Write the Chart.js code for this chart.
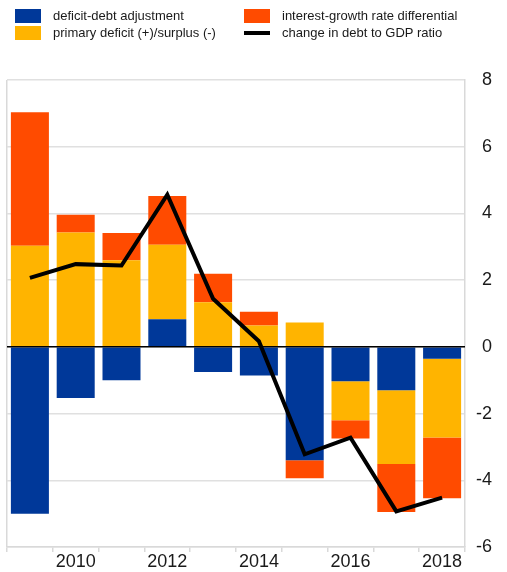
<!DOCTYPE html>
<html>
<head>
<meta charset="utf-8">
<script src="https://cdn.jsdelivr.net/npm/chart.js@4.4.1/dist/chart.umd.min.js"></script>
<style>
  html, body { margin: 0; padding: 0; background: #fff; }
  #wrap { position: relative; width: 507px; height: 572px; overflow: hidden; }
  #c { position: absolute; left: 0; top: 0; }
  .lg { position: absolute; font-family: "Liberation Sans", Arial, sans-serif; font-size: 13px; color: #1a1a1a; line-height: 16px; white-space: nowrap; }
  .sw { position: absolute; }
</style>
</head>
<body>
<div id="wrap">
  <canvas id="c" width="507" height="572"></canvas>
  <div id="legend"></div>
</div>
<script>
// ---- data ----
const years = ['2009','2010','2011','2012','2013','2014','2015','2016','2017','2018'];
const deficitDebtAdjustment = [-5.0, -1.53, -1.0, 0.83, -0.75, -0.86, -3.40, -1.03, -1.30, -0.36];
const primaryDeficit = [3.03, 3.43, 2.60, 2.23, 1.34, 0.64, 0.73, -1.17, -2.21, -2.36];
const interestGrowthDiff = [4.0, 0.53, 0.81, 1.46, 0.85, 0.41, -0.54, -0.55, -1.44, -1.82];
const changeInDebtRatio = [2.07, 2.48, 2.44, 4.56, 1.44, 0.17, -3.22, -2.72, -4.93, -4.52];
const seriesNames = ['deficit-debt adjustment', 'primary deficit (+)/surplus (-)', 'interest-growth rate differential', 'change in debt to GDP ratio'];
const yTicks = [-6, -4, -2, 0, 2, 4, 6, 8];

const BLUE = '#003899', YELLOW = '#FFB400', ORANGE = '#FF4B00', BLACK = '#000000';

// ---- HTML legend (two columns) ----
const legend = document.getElementById('legend');
const legendItems = [
  { name: seriesNames[0], color: BLUE, type: 'box', x: 15, y: 9 },
  { name: seriesNames[1], color: YELLOW, type: 'box', x: 15, y: 26 },
  { name: seriesNames[2], color: ORANGE, type: 'box', x: 244, y: 9 },
  { name: seriesNames[3], color: BLACK, type: 'line', x: 244, y: 26 }
];
legendItems.forEach(it => {
  const sw = document.createElement('div');
  sw.className = 'sw';
  sw.style.left = it.x + 'px';
  sw.style.width = '26px';
  sw.style.background = it.color;
  if (it.type === 'box') { sw.style.top = it.y + 'px'; sw.style.height = '14px'; }
  else { sw.style.top = (it.y + 5) + 'px'; sw.style.height = '4px'; }
  legend.appendChild(sw);
  const t = document.createElement('div');
  t.className = 'lg';
  t.style.left = (it.x + 38) + 'px';
  t.style.top = (it.y - 1) + 'px';
  t.textContent = it.name;
  legend.appendChild(t);
});

// ---- zero line plugin ----
const zeroLine = {
  id: 'zeroLine',
  beforeDatasetDraw(chart, args) {
    if (args.index !== 3) return;
    const y = chart.scales.y.getPixelForValue(0);
    const ctx = chart.ctx;
    ctx.save();
    ctx.strokeStyle = '#000';
    ctx.lineWidth = 1.5;
    ctx.beginPath();
    ctx.moveTo(chart.chartArea.left, y);
    ctx.lineTo(chart.chartArea.right, y);
    ctx.stroke();
    ctx.restore();
  }
};

const FONT = { family: '"Liberation Sans", Arial, sans-serif', size: 18 };

new Chart(document.getElementById('c'), {
  type: 'bar',
  data: {
    labels: years,
    datasets: [
      { label: seriesNames[0], data: deficitDebtAdjustment, backgroundColor: BLUE, order: 1, stack: 'bars' },
      { label: seriesNames[1], data: primaryDeficit, backgroundColor: YELLOW, order: 1, stack: 'bars' },
      { label: seriesNames[2], data: interestGrowthDiff, backgroundColor: ORANGE, order: 1, stack: 'bars' },
      { label: seriesNames[3], data: changeInDebtRatio, type: 'line', borderColor: BLACK, borderWidth: 4,
        pointRadius: 0, tension: 0, fill: false, order: 0, stack: 'line', borderJoinStyle: 'miter' }
    ]
  },
  options: {
    responsive: false,
    animation: false,
    events: [],
    layout: { padding: { top: 80, left: 7, right: 15, bottom: 0 } },
    plugins: { legend: { display: false }, tooltip: { enabled: false } },
    datasets: { bar: { barPercentage: 0.83, categoryPercentage: 1.0 } },
    scales: {
      x: {
        stacked: true,
        grid: {
          offset: true,
          drawOnChartArea: true,
          color: ctx => (ctx.index === 0 ? '#d9d9d9' : 'rgba(0,0,0,0)'),
          tickColor: '#d9d9d9',
          tickLength: 5,
          lineWidth: 1.5
        },
        border: { display: true, color: '#d9d9d9', width: 1.5 },
        ticks: {
          font: FONT, color: '#1a1a1a', maxRotation: 0, autoSkip: false, padding: -1,
          callback: function (v, i) { return i % 2 === 1 ? years[i] : ''; }
        },
        afterFit: s => { s.height = 25; }
      },
      y: {
        position: 'right',
        stacked: true,
        min: yTicks[0], max: yTicks[yTicks.length - 1],
        afterBuildTicks: s => { s.ticks = yTicks.map(v => ({ value: v })); },
        grid: { color: '#e0e0e0', lineWidth: 1.5, drawTicks: false },
        border: { display: true, color: '#d9d9d9', width: 1.5 },
        ticks: { font: FONT, color: '#1a1a1a', padding: 8, crossAlign: 'far' },
        afterFit: s => { s.width = 27; }
      }
    }
  },
  plugins: [zeroLine]
});
</script>
</body>
</html>
